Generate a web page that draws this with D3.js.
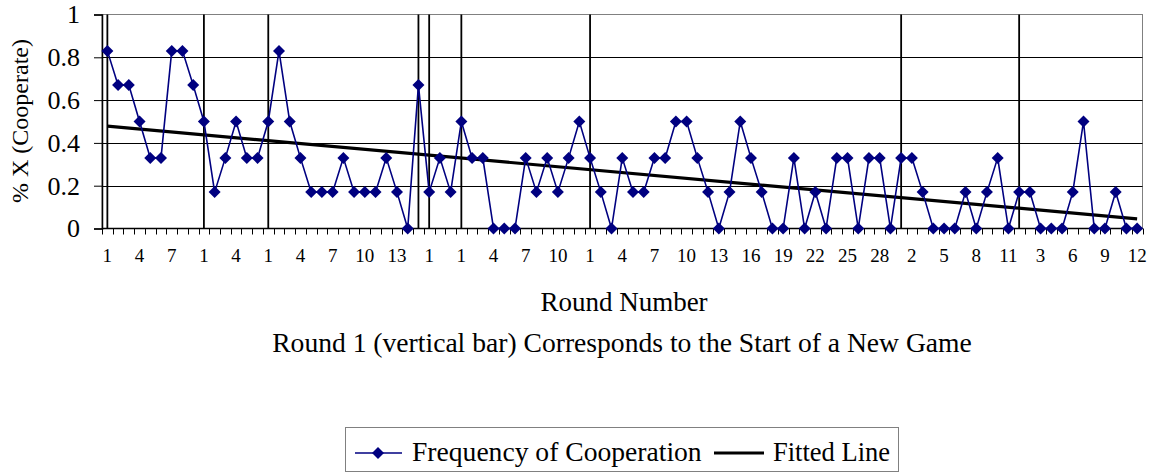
<!DOCTYPE html>
<html>
<head>
<meta charset="utf-8">
<script src="https://cdn.jsdelivr.net/npm/d3@7"></script>
<style>
  html, body { margin: 0; padding: 0; background: #fff; }
  svg { display: block; }
  text { font-family: "Liberation Serif", "DejaVu Serif", serif; fill: #000; }
</style>
</head>
<body>
<svg id="chart" width="1154" height="474"></svg>
<script>
// Round number within each game (one entry per observation)
const rounds = [
  1,2,3,4,5,6,7,8,9,
  1,2,3,4,5,6,
  1,2,3,4,5,6,7,8,9,10,11,12,13,14,
  1,
  1,2,3,
  1,2,3,4,5,6,7,8,9,10,11,12,
  1,2,3,4,5,6,7,8,9,10,11,12,13,14,15,16,17,18,19,20,21,22,23,24,25,26,27,28,29,
  1,2,3,4,5,6,7,8,9,10,11,
  1,2,3,4,5,6,7,8,9,10,11,12
];
// Frequency of cooperation
const cooperation = [
  0.83,0.67,0.67,0.5,0.33,0.33,0.83,0.83,0.67,
  0.5,0.17,0.33,0.5,0.33,0.33,
  0.5,0.83,0.5,0.33,0.17,0.17,0.17,0.33,0.17,0.17,0.17,0.33,0.17,0,
  0.67,
  0.17,0.33,0.17,
  0.5,0.33,0.33,0,0,0,0.33,0.17,0.33,0.17,0.33,0.5,
  0.33,0.17,0,0.33,0.17,0.17,0.33,0.33,0.5,0.5,0.33,0.17,0,0.17,0.5,0.33,0.17,0,0,0.33,0,0.17,0,0.33,0.33,0,0.33,0.33,0,
  0.33,0.33,0.17,0,0,0,0.17,0,0.17,0.33,0,
  0.17,0.17,0,0,0,0.17,0.5,0,0,0.17,0,0
];
// Fitted line endpoints (first and last observation)
const fittedIndex = [0, 96];
const fittedValue = [0.478, 0.045];
const yTicks = [0, 0.2, 0.4, 0.6, 0.8, 1];
const yTickLabels = ["0", "0.2", "0.4", "0.6", "0.8", "1"];

const svg = d3.select("#chart");
const L = 102, R = 1142.5, T = 14.5, B = 228.5;

const idx = d3.range(cooperation.length);
const x = d3.scaleBand().domain(idx).range([L, R]).padding(0);
const bw = x.bandwidth();
const cx = i => x(i) + bw / 2;
const y = d3.scaleLinear().domain([0, 1]).range([B, T]);

svg.append("rect").attr("x", L).attr("y", T).attr("width", R - L).attr("height", B - T)
  .attr("fill", "none").attr("stroke", "#808080").attr("stroke-width", 1);

svg.append("g").selectAll("line").data(yTicks.filter(d => d > 0 && d < 1)).join("line")
  .attr("x1", L).attr("x2", R)
  .attr("y1", d => Math.round(y(d)) + 0.5).attr("y2", d => Math.round(y(d)) + 0.5)
  .attr("stroke", "#000").attr("stroke-width", 1);

svg.append("g").selectAll("line").data(idx.filter(i => rounds[i] === 1)).join("line")
  .attr("x1", i => cx(i)).attr("x2", i => cx(i))
  .attr("y1", T).attr("y2", B)
  .attr("stroke", "#000").attr("stroke-width", 1.8);

const yAxis = d3.axisLeft(y).tickValues(yTicks).tickFormat((d, i) => yTickLabels[i]).tickSize(8).tickPadding(14);
const gy = svg.append("g").attr("transform", `translate(${L},0)`).call(yAxis);
gy.select(".domain").attr("stroke", "#000").attr("stroke-width", 1.5);
gy.selectAll(".tick line").attr("stroke", "#000");
gy.selectAll(".tick text").attr("font-size", 26).attr("fill", "#000");

svg.append("line").attr("x1", L).attr("x2", R).attr("y1", B).attr("y2", B)
  .attr("stroke", "#000").attr("stroke-width", 1.5);
const tickPos = idx.map(i => x(i)).concat([R]);
svg.append("g").selectAll("line").data(tickPos).join("line")
  .attr("x1", d => Math.round(d) + 0.5).attr("x2", d => Math.round(d) + 0.5)
  .attr("y1", B).attr("y2", B + 6)
  .attr("stroke", "#000").attr("stroke-width", 1);
const xAxis = d3.axisBottom(x).tickValues(idx.filter(i => i % 3 === 0))
  .tickFormat(i => rounds[i]).tickSize(0).tickPadding(20);
const gx = svg.append("g").attr("transform", `translate(0,${B})`).call(xAxis);
gx.select(".domain").remove();
gx.selectAll(".tick text").attr("font-size", 19).attr("fill", "#000");

svg.append("path")
  .datum(fittedIndex.map((d, k) => [d, fittedValue[k]]))
  .attr("d", d3.line().x(d => cx(d[0])).y(d => y(d[1])))
  .attr("fill", "none").attr("stroke", "#000").attr("stroke-width", 3.2);

svg.append("path")
  .datum(idx)
  .attr("d", d3.line().x(i => cx(i)).y(i => y(cooperation[i])))
  .attr("fill", "none").attr("stroke", "#000080").attr("stroke-width", 1.6);

const dPath = "M0,-6L6,0L0,6L-6,0Z";
svg.append("g").selectAll("path").data(idx).join("path")
  .attr("d", dPath)
  .attr("transform", i => `translate(${cx(i)},${y(cooperation[i])})`)
  .attr("fill", "#000080");

svg.append("text").attr("transform", "translate(28,121) rotate(-90)")
  .attr("text-anchor", "middle").attr("font-size", 24).text("% X (Cooperate)");
svg.append("text").attr("x", 624).attr("y", 311).attr("text-anchor", "middle")
  .attr("font-size", 27).text("Round Number");
svg.append("text").attr("x", 622).attr("y", 352).attr("text-anchor", "middle")
  .attr("font-size", 27.6).text("Round 1 (vertical bar) Corresponds to the Start of a New Game");

const lg = svg.append("g");
lg.append("rect").attr("x", 345.5).attr("y", 427.5).attr("width", 553).attr("height", 44)
  .attr("fill", "#fff").attr("stroke", "#808080").attr("stroke-width", 1);
lg.append("line").attr("x1", 355).attr("x2", 402).attr("y1", 453).attr("y2", 453)
  .attr("stroke", "#000080").attr("stroke-width", 1.6);
lg.append("path").attr("d", dPath).attr("transform", "translate(378,453)").attr("fill", "#000080");
lg.append("text").attr("x", 412).attr("y", 461).attr("font-size", 27.6).text("Frequency of Cooperation");
lg.append("line").attr("x1", 714).attr("x2", 764).attr("y1", 453).attr("y2", 453)
  .attr("stroke", "#000").attr("stroke-width", 3.2);
lg.append("text").attr("x", 773).attr("y", 461).attr("font-size", 26.5).text("Fitted Line");
</script>
</body>
</html>
